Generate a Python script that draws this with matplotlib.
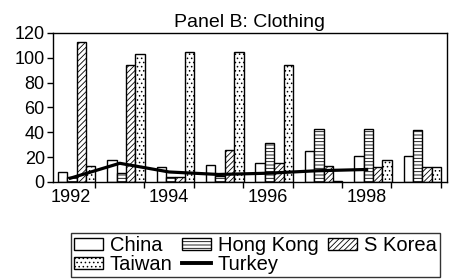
import numpy as np
import matplotlib
matplotlib.use('Agg')
import matplotlib.pyplot as plt
from matplotlib.lines import Line2D
from matplotlib.patches import Patch

plt.rcParams['font.family'] = ['Liberation Sans', 'DejaVu Sans']
plt.rcParams['hatch.linewidth'] = 0.6

years = [1992, 1993, 1994, 1995, 1996, 1997, 1998, 1999]
china = [8, 18, 12, 14, 15, 25, 21, 21]
hong_kong = [4, 7, 4, 5, 31, 43, 43, 42]
s_korea = [113, 94, 4, 26, 15, 13, 12, 12]
taiwan = [13, 103, 105, 105, 94, 1, 18, 12]
turkey = [3, 15, 8, 6, 7, 9, 10]  # 1992-1998

fig = plt.figure(figsize=(4.5, 2.79), dpi=100)
ax = fig.add_axes([0.118, 0.348, 0.875, 0.534])

x = np.arange(len(years))
w = 0.19
shift = 0.127
series = [(china, 'China', ''), (hong_kong, 'Hong Kong', '-----'),
          (s_korea, 'S Korea', '//////'), (taiwan, 'Taiwan', '....')]
handles = {}
for j, (vals, name, hatch) in enumerate(series):
    ax.bar(x + shift + (j - 1.5) * w, vals, w, facecolor='white', edgecolor='black',
           linewidth=1.0, hatch=hatch, zorder=2)
    handles[name] = Patch(facecolor='white', edgecolor='black', linewidth=1.0, hatch=hatch)

ax.plot(x[:len(turkey)], turkey, color='black', linewidth=2.3, zorder=3)
handles['Turkey'] = Line2D([], [], color='black', linewidth=2.8)

ax.set_xlim(-0.35, 7.625)
ax.set_ylim(0, 120)
ax.set_yticks(range(0, 121, 20))
ax.tick_params(axis='y', direction='out', length=4, width=1, labelsize=13, pad=2)

# year labels at centres, tick marks at the category boundaries
ax.set_xticks(x[::2])
ax.set_xticklabels([str(y) for y in years[::2]])
ax.set_xticks(np.arange(0.5, 8, 1), minor=True)
ax.tick_params(axis='x', which='major', length=0, labelsize=13, pad=5)
ax.tick_params(axis='x', which='minor', direction='out', length=4, width=1)

for s in ax.spines.values():
    s.set_linewidth(1.0)

ax.set_title('Panel B: Clothing', fontsize=14, pad=4)

order = ['China', 'Taiwan', 'Hong Kong', 'Turkey', 'S Korea']
fig.legend([handles[n] for n in order], order, ncol=3, loc='lower center',
           bbox_to_anchor=(0.567, 0.0), fontsize=14.5, frameon=True, fancybox=False,
           edgecolor='black', handlelength=1.45, handleheight=0.55, handletextpad=0.35,
           columnspacing=0.45, labelspacing=0.0, borderpad=0.15, borderaxespad=0.1)

fig.savefig('out.png', dpi=100)
